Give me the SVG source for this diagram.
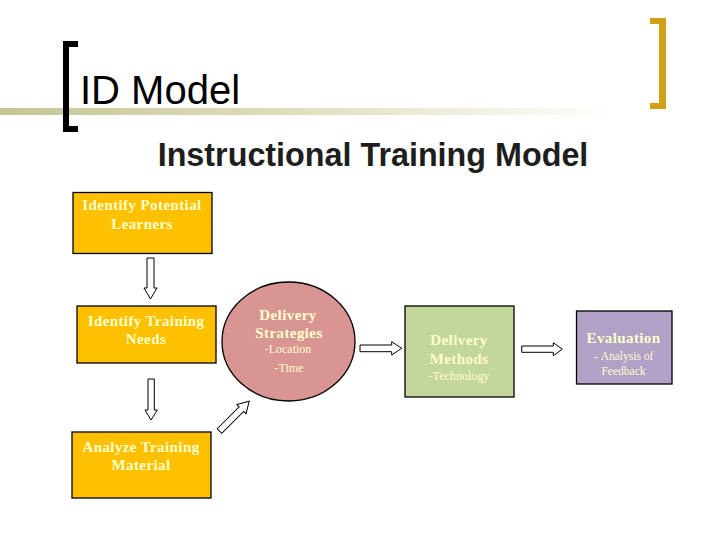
<svg xmlns="http://www.w3.org/2000/svg" width="720" height="540" viewBox="0 0 720 540">
<defs>
<linearGradient id="bar" x1="0" y1="0" x2="1" y2="0">
<stop offset="0" stop-color="#C6C594"/>
<stop offset="0.45" stop-color="#DEDDBB"/>
<stop offset="1" stop-color="#FFFFFF"/>
</linearGradient>
</defs>
<style>
.box{stroke:#000;stroke-width:1.3}
.y{fill:#FFC000}
.t{font-family:"Liberation Serif","Times New Roman",serif;fill:#FFFFCC;text-anchor:middle}
.b{font-size:15px;font-weight:bold;letter-spacing:0.4px}
.s{font-size:12px}
.arr{fill:#FFFFFF;stroke:#000;stroke-width:1}
</style>
<rect width="720" height="540" fill="#FFFFFF"/>
<rect x="0" y="108" width="620" height="7" fill="url(#bar)"/>
<g id="bracket-left" fill="#000">
<rect x="63" y="41" width="6" height="91"/>
<rect x="63" y="41" width="15" height="6"/>
<rect x="63" y="126" width="15" height="6"/>
</g>
<g id="bracket-right" fill="#D1A01A">
<rect x="659" y="18" width="7" height="91"/>
<rect x="650" y="18" width="16" height="6"/>
<rect x="650" y="103" width="16" height="6"/>
</g>
<text x="80" y="104" font-family="Liberation Sans, Arial, sans-serif" font-size="40" fill="#000">ID Model</text>
<text x="373" y="166" font-family="Liberation Sans, Arial, sans-serif" font-size="32.3" font-weight="bold" fill="#1E1E1E" text-anchor="middle">Instructional Training Model</text>
<g id="connectors">
<polygon class="arr" points="147,258 154,258 154,288 157,288 150.5,299 144,288 147,288"/>
<polygon class="arr" points="148,379 154.3,379 154.3,410 157.3,410 151,420 145,410 148,410"/>
<polygon class="arr" transform="translate(219.5,431) rotate(-45)" points="0,-3.2 31,-3.2 31,-6.5 42,0 31,6.5 31,3.2 0,3.2"/>
<polygon class="arr" points="360,345 391.7,345 391.7,341.7 401.7,348.3 391.7,355 391.7,351.7 360,351.7"/>
<polygon class="arr" points="521.7,346 553.3,346 553.3,342.7 562.3,349.2 553.3,355.7 553.3,352.3 521.7,352.3"/>
</g>
<g id="n1">
<rect class="box y" x="73" y="192.5" width="139" height="61"/>
<text class="t b" x="142" y="210">Identify Potential</text>
<text class="t b" x="142" y="229">Learners</text>
</g>
<g id="n2">
<rect class="box y" x="77" y="306" width="139" height="57"/>
<text class="t b" x="146" y="326">Identify Training</text>
<text class="t b" x="146" y="344">Needs</text>
</g>
<g id="n3">
<rect class="box y" x="72" y="432" width="139" height="66"/>
<text class="t b" x="141" y="452">Analyze Training</text>
<text class="t b" x="141" y="470">Material</text>
</g>
<g id="n4">
<ellipse class="box" cx="288.5" cy="341.5" rx="66.5" ry="59.5" fill="#D99594"/>
<text class="t b" x="288" y="320">Delivery</text>
<text class="t b" x="289" y="338">Strategies</text>
<text class="t s" x="288" y="352.5">-Location</text>
<text class="t s" x="289" y="372">-Time</text>
</g>
<g id="n5">
<rect class="box" x="405" y="306" width="109" height="91" fill="#C3D69B"/>
<text class="t b" x="459" y="345">Delivery</text>
<text class="t b" x="459" y="364">Methods</text>
<text class="t s" x="459" y="380">-Technology</text>
</g>
<g id="n6">
<rect class="box" x="576.5" y="311" width="95.5" height="73" fill="#B2A1C7"/>
<text class="t b" x="623.5" y="343">Evaluation</text>
<text class="t" x="624" y="360" font-size="11.5">- Analysis of</text>
<text class="t" x="623.5" y="374.5" font-size="11.5">Feedback</text>
</g>
</svg>
